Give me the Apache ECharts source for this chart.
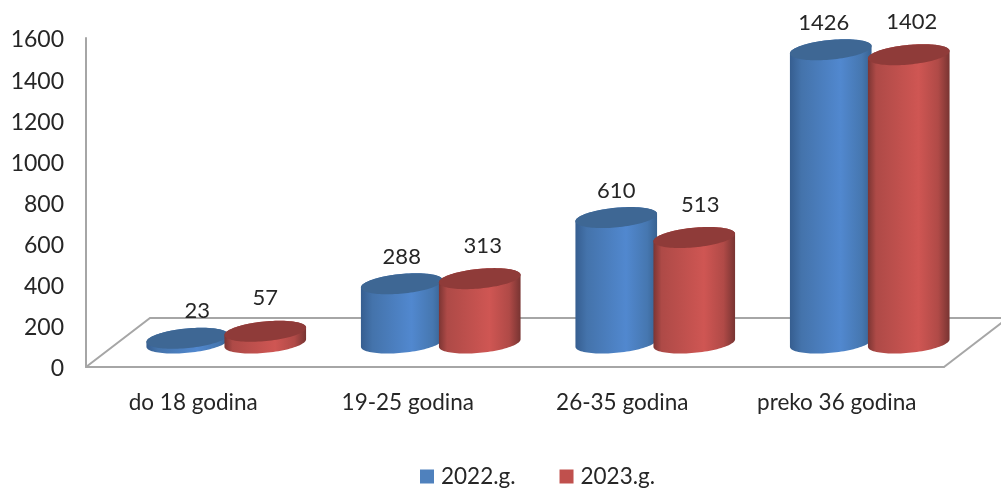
<!DOCTYPE html>
<html><head><meta charset="utf-8">
<style>html,body{margin:0;padding:0;background:#fff}#c{width:1001px;height:492px}</style>
<script src="https://cdn.jsdelivr.net/npm/echarts@6/dist/echarts.min.js"></script>
</head><body><div id="c"></div>
<script>
const categories = ['do 18 godina', '19-25 godina', '26-35 godina', 'preko 36 godina'];
const values2022 = [23, 288, 610, 1426];
const values2023 = [57, 313, 513, 1402];
const labelNudge2022 = [10, 0, 0, -7];
const labelNudge2023 = [0, 3, 6, 3];
const FONT = 'Lato, Carlito, sans-serif';
const DEPTH_DX = 64, DEPTH_DY = 49, BASE_LIFT = 24;
const RX = 41, RY = 9.8, TILT = -5.5 * Math.PI / 180;

function ellipsePt(cx, cy, t) {
  const c = Math.cos(t), s = Math.sin(t);
  return [cx + RX * c * Math.cos(TILT) - RY * s * Math.sin(TILT),
          cy + RX * c * Math.sin(TILT) + RY * s * Math.cos(TILT)];
}
function grad(stops) {
  return {type:'linear', x:0, y:0, x2:1, y2:0, colorStops: stops.map(s => ({offset:s[0], color:s[1]}))};
}
function cylinder(xShift, bodyStops, topColor, labelLift, nudge) {
  return function (params, api) {
    const v = api.value(1);
    const top = api.coord([api.value(0), v]);
    const base = api.coord([api.value(0), 0]);
    const cx = base[0] + xShift;
    const by = base[1] - BASE_LIFT;
    const ty = top[1] - BASE_LIFT;
    const t0 = Math.atan2(-RY * Math.sin(TILT), RX * Math.cos(TILT));
    const body = [], topPts = [];
    const N = 48;
    for (let i = 0; i <= N; i++) body.push(ellipsePt(cx, by, t0 + Math.PI * i / N));
    for (let i = 0; i <= N; i++) body.push(ellipsePt(cx, ty, t0 + Math.PI + Math.PI * i / N));
    for (let i = 0; i < 2 * N; i++) topPts.push(ellipsePt(cx, ty, Math.PI * i / N));
    return {type:'group', children:[
      {type:'polygon', shape:{points:body}, style:{fill:grad(bodyStops)}},
      {type:'polygon', shape:{points:topPts}, style:{fill:topColor}},
      {type:'text', style:{text:String(v), x:cx + nudge[params.dataIndex], y:ty - labelLift, align:'center', verticalAlign:'middle',
        font:'22px ' + FONT, fill:'#262626'}}
    ]};
  };
}
const blueStops = [[0,'#365e90'],[0.14,'#4473ab'],[0.62,'#5188cf'],[0.88,'#4677b0'],[1,'#386291']];
const redStops = [[0,'#7c3533'],[0.10,'#ae4a47'],[0.62,'#cf5653'],[0.86,'#b04a47'],[1,'#783432']];

const chart = echarts.init(document.getElementById('c'), null, {renderer:'canvas'});
chart.setOption({
  animation:false,
  backgroundColor:'#fff',
  grid:{left:86, right:57, top:38, bottom:125},
  xAxis:{type:'category', data:categories, boundaryGap:true,
    axisLine:{lineStyle:{color:'#a6a6a6', width:2}}, axisTick:{show:false},
    axisLabel:{fontFamily:FONT, fontSize:22.5, color:'#262626', margin:24}},
  yAxis:{type:'value', min:0, max:1600, interval:200,
    axisLine:{show:true, lineStyle:{color:'#a6a6a6', width:2}}, axisTick:{show:false},
    splitLine:{show:false},
    axisLabel:{color:'#262626', margin:22,
      formatter:function (v) { return '{t|' + v + '}'; },
      rich:{t:{fontFamily:FONT, fontSize:23, color:'#262626', padding:[4,0,0,0]}}}},
  legend:{left:415, top:460, itemWidth:14, itemHeight:14, itemGap:44, icon:'rect',
    data:['2022.g.','2023.g.'], textStyle:{fontFamily:FONT, fontSize:22.5, color:'#262626', padding:[0,0,0,2]}, selectedMode:false},
  series:[
    {type:'custom', silent:true, coordinateSystem:'cartesian2d', data:[[0,0]], encode:{x:0,y:1}, clip:false, z:1,
      renderItem:function (params, api) {
        const cs = params.coordSys;
        const bottom = cs.y + cs.height, right = cs.x + cs.width;
        return {type:'polyline', shape:{points:[
          [cs.x, bottom], [cs.x + DEPTH_DX, bottom - DEPTH_DY],
          [right + DEPTH_DX, bottom - DEPTH_DY]]},
          style:{fill:'none', stroke:'#a6a6a6', lineWidth:2}};
      }},
    {type:'custom', silent:true, coordinateSystem:'cartesian2d', data:[[0,0]], encode:{x:0,y:1}, clip:false, z:1,
      renderItem:function (params, api) {
        const cs = params.coordSys;
        const bottom = cs.y + cs.height, right = cs.x + cs.width;
        return {type:'polyline', shape:{points:[[right, bottom], [right + DEPTH_DX, bottom - DEPTH_DY]]},
          style:{fill:'none', stroke:'#a6a6a6', lineWidth:2}};
      }},
    {name:'2022.g.', type:'custom', coordinateSystem:'cartesian2d', clip:false, z:3,
      itemStyle:{color:'#4f81bd'}, encode:{x:0,y:1},
      data:values2022.map((v,i)=>[i,v]),
      renderItem:cylinder(-6, blueStops, '#3e6794', 27, labelNudge2022)},
    {name:'2023.g.', type:'custom', coordinateSystem:'cartesian2d', clip:false, z:4,
      itemStyle:{color:'#c0504d'}, encode:{x:0,y:1},
      data:values2023.map((v,i)=>[i,v]),
      renderItem:cylinder(72, redStops, '#8f3b39', 33, labelNudge2023)}
  ]
});
</script></body></html>
